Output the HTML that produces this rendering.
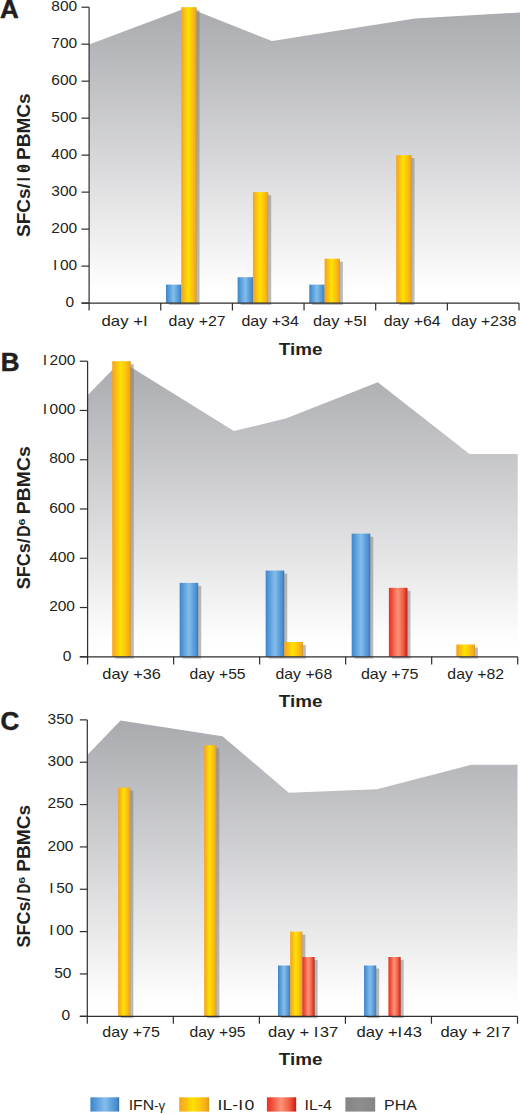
<!DOCTYPE html>
<html><head><meta charset="utf-8"><title>Chart</title>
<style>html,body{margin:0;padding:0;background:#fff;}body{width:520px;height:1115px;overflow:hidden;font-family:"Liberation Sans",sans-serif;}svg{display:block;}</style>
</head><body>
<svg width="520" height="1115" viewBox="0 0 520 1115" font-family="Liberation Sans, sans-serif"><defs>
<linearGradient id="gB" x1="0" y1="0" x2="1" y2="0">
 <stop offset="0" stop-color="#3f84c6"/>
 <stop offset="0.1" stop-color="#4a91d2"/>
 <stop offset="0.5" stop-color="#84bdec"/>
 <stop offset="0.8" stop-color="#5599d6"/>
 <stop offset="0.92" stop-color="#4a8bcb"/>
 <stop offset="1" stop-color="#3a6ea6"/>
</linearGradient>
<linearGradient id="gY" x1="0" y1="0" x2="1" y2="0">
 <stop offset="0" stop-color="#f5a41c"/>
 <stop offset="0.12" stop-color="#f9b01a"/>
 <stop offset="0.45" stop-color="#ffe200"/>
 <stop offset="0.75" stop-color="#fbbf14"/>
 <stop offset="0.92" stop-color="#f4a916"/>
 <stop offset="1" stop-color="#d0942a"/>
</linearGradient>
<linearGradient id="gR" x1="0" y1="0" x2="1" y2="0">
 <stop offset="0" stop-color="#e8321f"/>
 <stop offset="0.12" stop-color="#ee4330"/>
 <stop offset="0.48" stop-color="#fd9478"/>
 <stop offset="0.78" stop-color="#f05a42"/>
 <stop offset="0.92" stop-color="#dc3220"/>
 <stop offset="1" stop-color="#b02418"/>
</linearGradient>
<filter id="blur" x="-50%" y="-10%" width="200%" height="120%"><feGaussianBlur stdDeviation="0.6"/></filter>
<linearGradient id="gaA" gradientUnits="userSpaceOnUse" x1="0" y1="7.196000000000026" x2="0" y2="303.1"><stop offset="0" stop-color="#a9aaae"/><stop offset="0.96" stop-color="#ffffff"/></linearGradient><linearGradient id="gaB" gradientUnits="userSpaceOnUse" x1="0" y1="361.20399999999995" x2="0" y2="656.8"><stop offset="0" stop-color="#a9aaae"/><stop offset="0.96" stop-color="#ffffff"/></linearGradient><linearGradient id="gaC" gradientUnits="userSpaceOnUse" x1="0" y1="719.885" x2="0" y2="1016.3"><stop offset="0" stop-color="#a9aaae"/><stop offset="0.96" stop-color="#ffffff"/></linearGradient><linearGradient id="gG" x1="0" y1="0" x2="1" y2="0"><stop offset="0" stop-color="#858585"/><stop offset="0.5" stop-color="#8e8e8e"/><stop offset="1" stop-color="#858585"/></linearGradient></defs><polygon points="89.1,44.5 187.5,7.6 272.0,41.0 415.0,18.5 520.0,12.5 520.0,303.1 89.1,303.1" fill="url(#gaA)"/><rect x="168.97" y="287.61" width="15.30" height="17.29" fill="#7a7a7a" opacity="0.5" filter="url(#blur)"/><rect x="184.27" y="10.20" width="15.30" height="294.70" fill="#7a7a7a" opacity="0.5" filter="url(#blur)"/><rect x="240.62" y="280.21" width="15.30" height="24.69" fill="#7a7a7a" opacity="0.5" filter="url(#blur)"/><rect x="255.92" y="195.14" width="15.30" height="109.76" fill="#7a7a7a" opacity="0.5" filter="url(#blur)"/><rect x="312.27" y="287.61" width="15.30" height="17.29" fill="#7a7a7a" opacity="0.5" filter="url(#blur)"/><rect x="327.57" y="261.71" width="15.30" height="43.19" fill="#7a7a7a" opacity="0.5" filter="url(#blur)"/><rect x="399.22" y="158.15" width="15.30" height="146.75" fill="#7a7a7a" opacity="0.5" filter="url(#blur)"/><rect x="165.97" y="284.61" width="15.30" height="18.49" fill="url(#gB)" /><rect x="181.27" y="7.20" width="15.30" height="295.90" fill="url(#gY)" /><rect x="237.62" y="277.21" width="15.30" height="25.89" fill="url(#gB)" /><rect x="252.92" y="192.14" width="15.30" height="110.96" fill="url(#gY)" /><rect x="309.27" y="284.61" width="15.30" height="18.49" fill="url(#gB)" /><rect x="324.57" y="258.71" width="15.30" height="44.39" fill="url(#gY)" /><rect x="396.22" y="155.15" width="15.30" height="147.95" fill="url(#gY)" /><line x1="89.10" y1="7.20" x2="89.10" y2="310.40" stroke="#2e2e2e" stroke-width="1.2"/><line x1="81.50" y1="303.10" x2="519.00" y2="303.10" stroke="#2e2e2e" stroke-width="1.2"/><line x1="81.50" y1="303.10" x2="89.10" y2="303.10" stroke="#2e2e2e" stroke-width="1.2"/><text x="74.10" y="306.80" font-size="15.5" text-anchor="end" font-weight="normal" fill="#231f20">0</text><line x1="81.50" y1="266.11" x2="89.10" y2="266.11" stroke="#2e2e2e" stroke-width="1.2"/><text x="77.20" y="269.81" font-size="15.5" text-anchor="end" font-weight="normal" fill="#231f20">I 00</text><line x1="81.50" y1="229.12" x2="89.10" y2="229.12" stroke="#2e2e2e" stroke-width="1.2"/><text x="77.20" y="232.82" font-size="15.5" text-anchor="end" font-weight="normal" fill="#231f20">200</text><line x1="81.50" y1="192.14" x2="89.10" y2="192.14" stroke="#2e2e2e" stroke-width="1.2"/><text x="77.20" y="195.84" font-size="15.5" text-anchor="end" font-weight="normal" fill="#231f20">300</text><line x1="81.50" y1="155.15" x2="89.10" y2="155.15" stroke="#2e2e2e" stroke-width="1.2"/><text x="77.20" y="158.85" font-size="15.5" text-anchor="end" font-weight="normal" fill="#231f20">400</text><line x1="81.50" y1="118.16" x2="89.10" y2="118.16" stroke="#2e2e2e" stroke-width="1.2"/><text x="77.20" y="121.86" font-size="15.5" text-anchor="end" font-weight="normal" fill="#231f20">500</text><line x1="81.50" y1="81.17" x2="89.10" y2="81.17" stroke="#2e2e2e" stroke-width="1.2"/><text x="77.20" y="84.87" font-size="15.5" text-anchor="end" font-weight="normal" fill="#231f20">600</text><line x1="81.50" y1="44.18" x2="89.10" y2="44.18" stroke="#2e2e2e" stroke-width="1.2"/><text x="77.20" y="47.88" font-size="15.5" text-anchor="end" font-weight="normal" fill="#231f20">700</text><line x1="81.50" y1="7.20" x2="89.10" y2="7.20" stroke="#2e2e2e" stroke-width="1.2"/><text x="77.20" y="10.90" font-size="15.5" text-anchor="end" font-weight="normal" fill="#231f20">800</text><line x1="160.75" y1="303.10" x2="160.75" y2="310.40" stroke="#2e2e2e" stroke-width="1.2"/><line x1="232.40" y1="303.10" x2="232.40" y2="310.40" stroke="#2e2e2e" stroke-width="1.2"/><line x1="304.05" y1="303.10" x2="304.05" y2="310.40" stroke="#2e2e2e" stroke-width="1.2"/><line x1="375.70" y1="303.10" x2="375.70" y2="310.40" stroke="#2e2e2e" stroke-width="1.2"/><line x1="447.35" y1="303.10" x2="447.35" y2="310.40" stroke="#2e2e2e" stroke-width="1.2"/><line x1="519.00" y1="303.10" x2="519.00" y2="310.40" stroke="#2e2e2e" stroke-width="1.2"/><text x="101.49" y="325.90" font-size="15" text-anchor="start" font-weight="normal" textLength="47.66" lengthAdjust="spacingAndGlyphs" fill="#231f20">day +I </text><text x="168.63" y="325.90" font-size="15" text-anchor="start" font-weight="normal" textLength="56.97" lengthAdjust="spacingAndGlyphs" fill="#231f20">day +27</text><text x="241.43" y="325.90" font-size="15" text-anchor="start" font-weight="normal" textLength="57.44" lengthAdjust="spacingAndGlyphs" fill="#231f20">day +34</text><text x="312.91" y="325.90" font-size="15" text-anchor="start" font-weight="normal" textLength="55.57" lengthAdjust="spacingAndGlyphs" fill="#231f20">day +5I </text><text x="383.73" y="325.90" font-size="15" text-anchor="start" font-weight="normal" textLength="56.83" lengthAdjust="spacingAndGlyphs" fill="#231f20">day +64</text><text x="451.54" y="325.90" font-size="15" text-anchor="start" font-weight="normal" textLength="64.84" lengthAdjust="spacingAndGlyphs" fill="#231f20">day +238</text><text x="300.60" y="355.40" font-size="17" text-anchor="middle" font-weight="bold" textLength="43.60" lengthAdjust="spacingAndGlyphs" fill="#231f20">Time</text><text x="0.00" y="17.70" font-size="26" text-anchor="start" font-weight="bold" fill="#231f20" stroke="#231f20" stroke-width="0.5">A</text><text transform="translate(29.70,236.95) rotate(-90)" x="0" y="0" font-size="18" font-weight="bold" textLength="53.73" lengthAdjust="spacingAndGlyphs" fill="#231f20">SFCs/</text><text transform="translate(29.70,181.13) rotate(-90)" x="0" y="0" font-size="18" font-weight="bold" textLength="3.86" lengthAdjust="spacingAndGlyphs" fill="#231f20">I</text><text transform="translate(29.70,172.71) rotate(-90)" x="0" y="0" font-size="18" font-weight="bold" textLength="8.54" lengthAdjust="spacingAndGlyphs" fill="#231f20">0</text><text transform="translate(26.20,170.47) rotate(-90)" x="0" y="0" font-size="7" font-weight="bold" textLength="4.14" lengthAdjust="spacingAndGlyphs" fill="#231f20">6</text><text transform="translate(29.70,160.07) rotate(-90)" x="0" y="0" font-size="18" font-weight="bold" textLength="66.65" lengthAdjust="spacingAndGlyphs" fill="#231f20">PBMCs</text><polygon points="87.6,395.2 121.0,361.0 233.9,431.1 285.8,418.6 377.8,382.3 469.5,454.0 517.7,454.0 517.7,656.6 87.6,656.6" fill="url(#gaB)"/><rect x="115.21" y="364.20" width="18.60" height="294.40" fill="#7a7a7a" opacity="0.5" filter="url(#blur)"/><rect x="182.63" y="585.90" width="18.60" height="72.70" fill="#7a7a7a" opacity="0.5" filter="url(#blur)"/><rect x="268.65" y="573.58" width="18.60" height="85.02" fill="#7a7a7a" opacity="0.5" filter="url(#blur)"/><rect x="287.25" y="645.02" width="18.60" height="13.58" fill="#7a7a7a" opacity="0.5" filter="url(#blur)"/><rect x="354.67" y="536.63" width="18.60" height="121.96" fill="#7a7a7a" opacity="0.5" filter="url(#blur)"/><rect x="391.87" y="590.83" width="18.60" height="67.77" fill="#7a7a7a" opacity="0.5" filter="url(#blur)"/><rect x="459.29" y="647.48" width="18.60" height="11.12" fill="#7a7a7a" opacity="0.5" filter="url(#blur)"/><rect x="112.21" y="361.20" width="18.60" height="295.60" fill="url(#gY)" /><rect x="179.63" y="582.90" width="18.60" height="73.90" fill="url(#gB)" /><rect x="265.65" y="570.58" width="18.60" height="86.22" fill="url(#gB)" /><rect x="284.25" y="642.02" width="18.60" height="14.78" fill="url(#gY)" /><rect x="351.67" y="533.63" width="18.60" height="123.16" fill="url(#gB)" /><rect x="388.87" y="587.83" width="18.60" height="68.97" fill="url(#gR)" /><rect x="456.29" y="644.48" width="18.60" height="12.32" fill="url(#gY)" /><line x1="87.60" y1="361.20" x2="87.60" y2="664.50" stroke="#2e2e2e" stroke-width="1.2"/><line x1="79.80" y1="656.80" x2="517.70" y2="656.80" stroke="#2e2e2e" stroke-width="1.2"/><line x1="79.80" y1="656.80" x2="87.60" y2="656.80" stroke="#2e2e2e" stroke-width="1.2"/><text x="71.40" y="660.50" font-size="15.5" text-anchor="end" font-weight="normal" fill="#231f20">0</text><line x1="79.80" y1="607.53" x2="87.60" y2="607.53" stroke="#2e2e2e" stroke-width="1.2"/><text x="75.00" y="611.23" font-size="15.5" text-anchor="end" font-weight="normal" fill="#231f20">200</text><line x1="79.80" y1="558.27" x2="87.60" y2="558.27" stroke="#2e2e2e" stroke-width="1.2"/><text x="75.00" y="561.97" font-size="15.5" text-anchor="end" font-weight="normal" fill="#231f20">400</text><line x1="79.80" y1="509.00" x2="87.60" y2="509.00" stroke="#2e2e2e" stroke-width="1.2"/><text x="75.00" y="512.70" font-size="15.5" text-anchor="end" font-weight="normal" fill="#231f20">600</text><line x1="79.80" y1="459.74" x2="87.60" y2="459.74" stroke="#2e2e2e" stroke-width="1.2"/><text x="75.00" y="463.44" font-size="15.5" text-anchor="end" font-weight="normal" fill="#231f20">800</text><line x1="79.80" y1="410.47" x2="87.60" y2="410.47" stroke="#2e2e2e" stroke-width="1.2"/><text x="75.40" y="414.17" font-size="15.5" text-anchor="end" font-weight="normal" fill="#231f20">I 000</text><line x1="79.80" y1="361.20" x2="87.60" y2="361.20" stroke="#2e2e2e" stroke-width="1.2"/><text x="75.40" y="364.90" font-size="15.5" text-anchor="end" font-weight="normal" fill="#231f20">I 200</text><line x1="173.62" y1="656.80" x2="173.62" y2="664.50" stroke="#2e2e2e" stroke-width="1.2"/><line x1="259.64" y1="656.80" x2="259.64" y2="664.50" stroke="#2e2e2e" stroke-width="1.2"/><line x1="345.66" y1="656.80" x2="345.66" y2="664.50" stroke="#2e2e2e" stroke-width="1.2"/><line x1="431.68" y1="656.80" x2="431.68" y2="664.50" stroke="#2e2e2e" stroke-width="1.2"/><line x1="517.70" y1="656.80" x2="517.70" y2="664.50" stroke="#2e2e2e" stroke-width="1.2"/><text x="102.32" y="679.30" font-size="15" text-anchor="start" font-weight="normal" textLength="58.50" lengthAdjust="spacingAndGlyphs" fill="#231f20">day +36</text><text x="189.44" y="679.30" font-size="15" text-anchor="start" font-weight="normal" textLength="56.11" lengthAdjust="spacingAndGlyphs" fill="#231f20">day +55</text><text x="275.54" y="679.30" font-size="15" text-anchor="start" font-weight="normal" textLength="56.65" lengthAdjust="spacingAndGlyphs" fill="#231f20">day +68</text><text x="360.92" y="679.30" font-size="15" text-anchor="start" font-weight="normal" textLength="57.65" lengthAdjust="spacingAndGlyphs" fill="#231f20">day +75</text><text x="447.33" y="679.30" font-size="15" text-anchor="start" font-weight="normal" textLength="56.86" lengthAdjust="spacingAndGlyphs" fill="#231f20">day +82</text><text x="300.60" y="706.90" font-size="17" text-anchor="middle" font-weight="bold" textLength="43.60" lengthAdjust="spacingAndGlyphs" fill="#231f20">Time</text><text x="0.80" y="370.80" font-size="26" text-anchor="start" font-weight="bold" fill="#231f20" stroke="#231f20" stroke-width="0.5">B</text><text transform="translate(29.80,589.32) rotate(-90)" x="0" y="0" font-size="17.8" font-weight="bold" textLength="51.10" lengthAdjust="spacingAndGlyphs" fill="#231f20">SFCs/</text><text transform="translate(29.80,536.66) rotate(-90)" x="0" y="0" font-size="17.8" font-weight="bold" textLength="11.42" lengthAdjust="spacingAndGlyphs" fill="#231f20">D</text><text transform="translate(24.50,525.45) rotate(-90)" x="0" y="0" font-size="8.5" font-weight="bold" textLength="6.90" lengthAdjust="spacingAndGlyphs" fill="#231f20">6</text><text transform="translate(29.80,514.20) rotate(-90)" x="0" y="0" font-size="17.8" font-weight="bold" textLength="67.89" lengthAdjust="spacingAndGlyphs" fill="#231f20">PBMCs</text><polygon points="87.3,755.0 120.5,720.4 222.5,736.2 288.8,792.8 376.9,789.2 471.5,764.8 517.5,764.8 517.5,1016.3 87.3,1016.3" fill="url(#gaC)"/><rect x="121.12" y="790.64" width="12.20" height="227.46" fill="#7a7a7a" opacity="0.5" filter="url(#blur)"/><rect x="207.16" y="748.29" width="12.20" height="269.81" fill="#7a7a7a" opacity="0.5" filter="url(#blur)"/><rect x="281.00" y="968.49" width="12.20" height="49.61" fill="#7a7a7a" opacity="0.5" filter="url(#blur)"/><rect x="293.20" y="934.61" width="12.20" height="83.49" fill="#7a7a7a" opacity="0.5" filter="url(#blur)"/><rect x="305.40" y="960.02" width="12.20" height="58.08" fill="#7a7a7a" opacity="0.5" filter="url(#blur)"/><rect x="367.04" y="968.49" width="12.20" height="49.61" fill="#7a7a7a" opacity="0.5" filter="url(#blur)"/><rect x="391.44" y="960.02" width="12.20" height="58.08" fill="#7a7a7a" opacity="0.5" filter="url(#blur)"/><rect x="118.12" y="787.64" width="12.20" height="228.66" fill="url(#gY)" /><rect x="204.16" y="745.29" width="12.20" height="271.01" fill="url(#gY)" /><rect x="278.00" y="965.49" width="12.20" height="50.81" fill="url(#gB)" /><rect x="290.20" y="931.61" width="12.20" height="84.69" fill="url(#gY)" /><rect x="302.40" y="957.02" width="12.20" height="59.28" fill="url(#gR)" /><rect x="364.04" y="965.49" width="12.20" height="50.81" fill="url(#gB)" /><rect x="388.44" y="957.02" width="12.20" height="59.28" fill="url(#gR)" /><line x1="87.30" y1="719.88" x2="87.30" y2="1023.80" stroke="#2e2e2e" stroke-width="1.2"/><line x1="79.80" y1="1016.30" x2="517.50" y2="1016.30" stroke="#2e2e2e" stroke-width="1.2"/><line x1="79.80" y1="1016.30" x2="87.30" y2="1016.30" stroke="#2e2e2e" stroke-width="1.2"/><text x="70.20" y="1020.00" font-size="15.5" text-anchor="end" font-weight="normal" fill="#231f20">0</text><line x1="79.80" y1="973.95" x2="87.30" y2="973.95" stroke="#2e2e2e" stroke-width="1.2"/><text x="71.40" y="977.65" font-size="15.5" text-anchor="end" font-weight="normal" fill="#231f20">50</text><line x1="79.80" y1="931.61" x2="87.30" y2="931.61" stroke="#2e2e2e" stroke-width="1.2"/><text x="73.40" y="935.31" font-size="15.5" text-anchor="end" font-weight="normal" fill="#231f20">I 00</text><line x1="79.80" y1="889.26" x2="87.30" y2="889.26" stroke="#2e2e2e" stroke-width="1.2"/><text x="73.40" y="892.97" font-size="15.5" text-anchor="end" font-weight="normal" fill="#231f20">I 50</text><line x1="79.80" y1="846.92" x2="87.30" y2="846.92" stroke="#2e2e2e" stroke-width="1.2"/><text x="73.40" y="850.62" font-size="15.5" text-anchor="end" font-weight="normal" fill="#231f20">200</text><line x1="79.80" y1="804.57" x2="87.30" y2="804.57" stroke="#2e2e2e" stroke-width="1.2"/><text x="73.40" y="808.27" font-size="15.5" text-anchor="end" font-weight="normal" fill="#231f20">250</text><line x1="79.80" y1="762.23" x2="87.30" y2="762.23" stroke="#2e2e2e" stroke-width="1.2"/><text x="73.40" y="765.93" font-size="15.5" text-anchor="end" font-weight="normal" fill="#231f20">300</text><line x1="79.80" y1="719.88" x2="87.30" y2="719.88" stroke="#2e2e2e" stroke-width="1.2"/><text x="73.40" y="723.59" font-size="15.5" text-anchor="end" font-weight="normal" fill="#231f20">350</text><line x1="173.34" y1="1016.30" x2="173.34" y2="1023.80" stroke="#2e2e2e" stroke-width="1.2"/><line x1="259.38" y1="1016.30" x2="259.38" y2="1023.80" stroke="#2e2e2e" stroke-width="1.2"/><line x1="345.42" y1="1016.30" x2="345.42" y2="1023.80" stroke="#2e2e2e" stroke-width="1.2"/><line x1="431.46" y1="1016.30" x2="431.46" y2="1023.80" stroke="#2e2e2e" stroke-width="1.2"/><line x1="517.50" y1="1016.30" x2="517.50" y2="1023.80" stroke="#2e2e2e" stroke-width="1.2"/><text x="102.33" y="1037.40" font-size="15" text-anchor="start" font-weight="normal" textLength="57.55" lengthAdjust="spacingAndGlyphs" fill="#231f20">day +75</text><text x="189.44" y="1037.40" font-size="15" text-anchor="start" font-weight="normal" textLength="56.11" lengthAdjust="spacingAndGlyphs" fill="#231f20">day +95</text><text x="268.00" y="1037.40" font-size="15" text-anchor="start" font-weight="normal" textLength="70.34" lengthAdjust="spacingAndGlyphs" fill="#231f20">day + I 37</text><text x="356.60" y="1037.40" font-size="15" text-anchor="start" font-weight="normal" textLength="65.42" lengthAdjust="spacingAndGlyphs" fill="#231f20">day +I 43</text><text x="440.40" y="1037.40" font-size="15" text-anchor="start" font-weight="normal" textLength="70.03" lengthAdjust="spacingAndGlyphs" fill="#231f20">day + 2I 7</text><text x="300.60" y="1064.60" font-size="17" text-anchor="middle" font-weight="bold" textLength="43.60" lengthAdjust="spacingAndGlyphs" fill="#231f20">Time</text><text x="0.50" y="729.50" font-size="26" text-anchor="start" font-weight="bold" fill="#231f20" stroke="#231f20" stroke-width="0.5">C</text><text transform="translate(29.80,947.42) rotate(-90)" x="0" y="0" font-size="17.8" font-weight="bold" textLength="50.79" lengthAdjust="spacingAndGlyphs" fill="#231f20">SFCs/</text><text transform="translate(29.80,893.52) rotate(-90)" x="0" y="0" font-size="17.8" font-weight="bold" textLength="9.89" lengthAdjust="spacingAndGlyphs" fill="#231f20">D</text><text transform="translate(24.50,883.85) rotate(-90)" x="0" y="0" font-size="8.5" font-weight="bold" textLength="6.90" lengthAdjust="spacingAndGlyphs" fill="#231f20">6</text><text transform="translate(29.80,871.78) rotate(-90)" x="0" y="0" font-size="17.8" font-weight="bold" textLength="66.96" lengthAdjust="spacingAndGlyphs" fill="#231f20">PBMCs</text><rect x="90.40" y="1097.30" width="28.80" height="14.30" fill="url(#gB)" /><text x="128.70" y="1109.90" font-size="14.2" text-anchor="start" font-weight="normal" textLength="36.40" lengthAdjust="spacingAndGlyphs" fill="#231f20">IFN<tspan font-size="12">-γ</tspan></text><rect x="179.20" y="1097.30" width="29.90" height="14.30" fill="url(#gY)" /><text x="217.57" y="1109.90" font-size="14.2" text-anchor="start" font-weight="normal" textLength="36.82" lengthAdjust="spacingAndGlyphs" fill="#231f20">IL-I 0</text><rect x="266.90" y="1097.30" width="29.30" height="14.30" fill="url(#gR)" /><text x="304.53" y="1109.90" font-size="14.2" text-anchor="start" font-weight="normal" textLength="27.44" lengthAdjust="spacingAndGlyphs" fill="#231f20">IL-4</text><rect x="345.40" y="1097.30" width="29.80" height="14.30" fill="url(#gG)" /><text x="384.09" y="1109.90" font-size="14.2" text-anchor="start" font-weight="normal" textLength="32.74" lengthAdjust="spacingAndGlyphs" fill="#231f20">PHA</text></svg>
</body></html>
